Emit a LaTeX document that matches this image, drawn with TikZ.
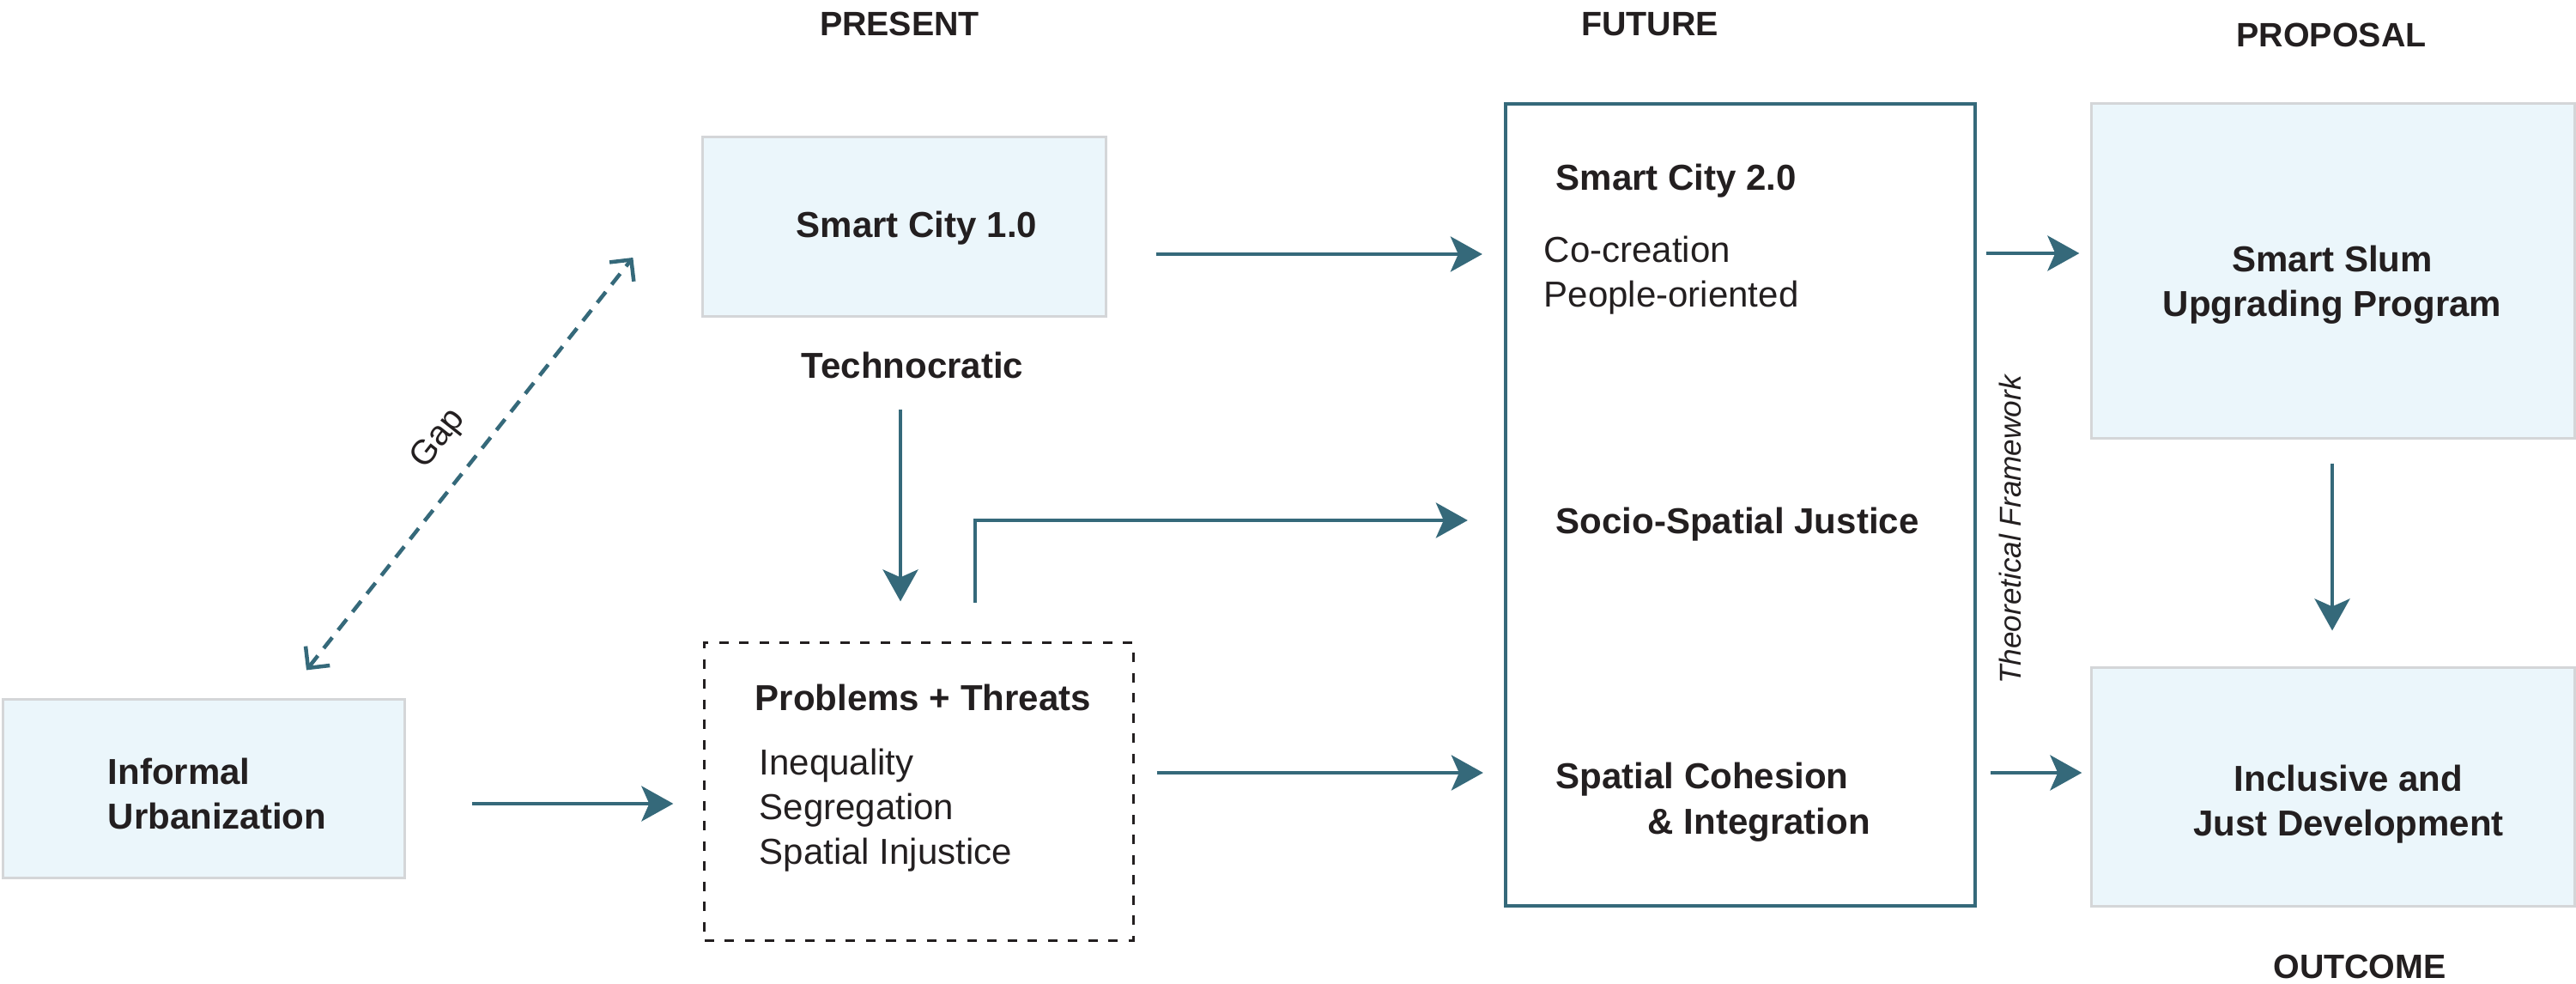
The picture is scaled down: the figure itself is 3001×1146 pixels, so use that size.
\documentclass[tikz,border=0pt]{standalone}
\usepackage{fontspec}
\setmainfont{Liberation Sans}
\usetikzlibrary{arrows.meta}

\definecolor{flowteal}{HTML}{35697A}
\definecolor{boxfill}{HTML}{EBF6FB}
\definecolor{boxline}{HTML}{D4D6D8}
\definecolor{ink}{HTML}{231F20}

\begin{document}
\begin{tikzpicture}[x=0.01cm, y=-0.01cm,
    lightbox/.style={draw=boxline, line width=0.03cm, fill=boxfill, inner sep=0pt},
    framebox/.style={draw=flowteal, line width=0.04cm, inner sep=0pt},
    dashbox/.style={draw=ink, line width=0.03cm, dash pattern=on 0.11cm off 0.125cm, inner sep=0pt},
    head/.style={font=\fontsize{11.2}{14}\selectfont\bfseries, text=ink, inner sep=0pt},
    bold/.style={font=\fontsize{11.95}{14.8}\selectfont\bfseries, text=ink, inner sep=0pt},
    plain/.style={font=\fontsize{11.95}{14.8}\selectfont, text=ink, inner sep=0pt},
    arr/.style={draw=flowteal, line width=0.042cm, -{Stealth[length=0.37cm, width=0.41cm, inset=0.09cm]}},
    gaparr/.style={draw=flowteal, line width=0.045cm, dash pattern=on 0.16cm off 0.11cm,
      {Straight Barb[length=0.18cm, width=0.36cm]}-{Straight Barb[length=0.18cm, width=0.36cm]}}
  ]
  \useasboundingbox (0,0) rectangle (3001,1146);

  % column titles
  \node[head, anchor=base] (present) at (1048,42) {PRESENT};
  \node[head, anchor=base] (future) at (1922,42) {FUTURE};
  \node[head, anchor=base] (proposal) at (2716,55) {PROPOSAL};
  \node[head, anchor=base] (outcome) at (2749,1139) {OUTCOME};

  % present
  \node[lightbox, minimum width=4.67cm, minimum height=2.07cm] (urban) at (237.5,918.5) {};
  \node[bold, align=left, anchor=west] (urbantxt) at (125,924) {Informal\\Urbanization};

  \node[lightbox, minimum width=4.69cm, minimum height=2.08cm] (sc1) at (1053.5,264) {};
  \node[bold, anchor=base] (sc1txt) at (1068,277) {Smart City 1.0};
  \node[bold, anchor=base] (tech) at (1063,440) {Technocratic};

  \node[dashbox, minimum width=4.99cm, minimum height=3.46cm] (prob) at (1070.5,922) {};
  \node[bold, anchor=base west] (probtxt) at (879,827) {Problems + Threats};
  \node[plain, align=left, anchor=west] (problist) at (884,944) {Inequality\\Segregation\\Spatial Injustice};

  % future
  \node[framebox, minimum width=5.47cm, minimum height=9.34cm] (fut) at (2027.5,588) {};
  \node[bold, anchor=base west] (sc2) at (1812,222) {Smart City 2.0};
  \node[plain, align=left, anchor=west] (cocr) at (1798,321) {Co-creation\\People-oriented};
  \node[bold, anchor=base west] (soc) at (1812,621) {Socio-Spatial Justice};
  \node[bold, anchor=base west] (coh) at (1812,918) {Spatial Cohesion};
  \node[bold, anchor=base west] (integ) at (1919,971) {\& Integration};
  \node[font=\fontsize{10}{12}\selectfont\itshape, text=ink, inner sep=0pt, rotate=90, anchor=base] (theory) at (2354,617) {Theoretical Framework};

  % proposal and outcome
  \node[lightbox, minimum width=5.62cm, minimum height=3.89cm] (slum) at (2718,315.5) {};
  \node[bold, align=center] (slumtxt) at (2717,332) {Smart Slum\\Upgrading Program};
  \node[lightbox, minimum width=5.62cm, minimum height=2.77cm] (incl) at (2718,916.5) {};
  \node[bold, align=center] (incltxt) at (2736,937) {Inclusive and\\Just Development};

  % connectors
  \draw[gaparr] ([shift={(119.5,-33)}]urban.north) -- ([shift={(-80,36)}]sc1.west)
    node[midway, sloped, above=0.14cm, font=\fontsize{11.4}{14}\selectfont, text=ink] (gap) {Gap};
  \draw[arr] ([shift={(57,32)}]sc1.east) -- ([shift={(-25,-292)}]fut.west);
  \draw[arr] ([shift={(-14,36)}]tech.south) -- ([shift={(-21.5,-47)}]prob.north);
  \draw[arr] ([shift={(65.5,-45)}]prob.north) |- ([shift={(-42,18)}]fut.west);
  \draw[arr] ([shift={(77,17.5)}]urban.east) -- ([shift={(-35,14)}]prob.west);
  \draw[arr] ([shift={(26,-22)}]prob.east) -- ([shift={(-24,312)}]fut.west);
  \draw[arr] ([shift={(11,-293)}]fut.east) -- ([shift={(-13,-20.5)}]slum.west);
  \draw[arr] ([shift={(16,312)}]fut.east) -- ([shift={(-10,-16.5)}]incl.west);
  \draw[arr] ([shift={(-1,28)}]slum.south) -- ([shift={(-1,-42)}]incl.north);

\end{tikzpicture}
\end{document}
